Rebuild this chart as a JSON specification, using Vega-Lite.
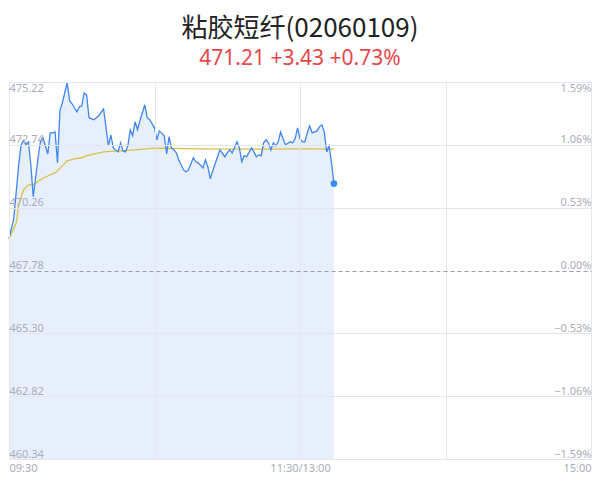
{
  "$schema": "https://vega.github.io/schema/vega-lite/v6.json",
  "width": 582,
  "height": 377,
  "autosize": "none",
  "padding": {"left": 9, "top": 82, "right": 9, "bottom": 24},
  "background": "white",
  "title": {
    "text": "粘胶短纤(02060109)",
    "subtitle": "471.21 +3.43 +0.73%",
    "anchor": "middle",
    "font": "Noto Sans CJK SC",
    "fontSize": 26,
    "fontWeight": "normal",
    "color": "#222222",
    "subtitleFont": "Noto Sans",
    "subtitleFontSize": 21,
    "subtitleColor": "#e8474a",
    "subtitlePadding": 6,
    "offset": 11
  },
  "datasets": {
    "price": [
      {"m": 0, "p": 469.03}, {"m": 2, "p": 469.86}, {"m": 4, "p": 471.95}, {"m": 5, "p": 472.74},
      {"m": 6, "p": 472.90}, {"m": 7, "p": 472.74}, {"m": 8, "p": 472.86}, {"m": 9, "p": 471.95},
      {"m": 10, "p": 470.69}, {"m": 12, "p": 472.23}, {"m": 13, "p": 472.90}, {"m": 14, "p": 473.02},
      {"m": 16, "p": 472.38}, {"m": 17, "p": 473.21}, {"m": 18, "p": 473.21}, {"m": 19, "p": 473.25},
      {"m": 20, "p": 472.03}, {"m": 21, "p": 474.08}, {"m": 22, "p": 474.40}, {"m": 24, "p": 475.19},
      {"m": 25, "p": 474.48}, {"m": 26, "p": 474.36}, {"m": 28, "p": 474.04}, {"m": 29, "p": 474.24},
      {"m": 30, "p": 474.28}, {"m": 31, "p": 474.79}, {"m": 32, "p": 474.71}, {"m": 33, "p": 473.81},
      {"m": 35, "p": 473.73}, {"m": 37, "p": 473.89}, {"m": 39, "p": 474.16}, {"m": 41, "p": 472.70},
      {"m": 42, "p": 473.13}, {"m": 43, "p": 472.62}, {"m": 45, "p": 472.46}, {"m": 46, "p": 472.82},
      {"m": 47, "p": 472.50}, {"m": 48, "p": 472.46}, {"m": 49, "p": 472.70}, {"m": 50, "p": 473.33},
      {"m": 51, "p": 473.10}, {"m": 52, "p": 473.65}, {"m": 53, "p": 473.33}, {"m": 54, "p": 473.69},
      {"m": 56, "p": 474.32}, {"m": 57, "p": 473.81}, {"m": 58, "p": 473.73}, {"m": 60, "p": 473.41},
      {"m": 61, "p": 472.94}, {"m": 62, "p": 473.29}, {"m": 64, "p": 473.10}, {"m": 65, "p": 472.38},
      {"m": 66, "p": 473.06}, {"m": 67, "p": 472.62}, {"m": 68, "p": 472.54}, {"m": 69, "p": 472.42},
      {"m": 70, "p": 472.15}, {"m": 72, "p": 471.75}, {"m": 73, "p": 471.67}, {"m": 74, "p": 471.75},
      {"m": 76, "p": 472.23}, {"m": 77, "p": 472.07}, {"m": 78, "p": 472.03}, {"m": 80, "p": 471.83},
      {"m": 81, "p": 472.15}, {"m": 82, "p": 471.87}, {"m": 83, "p": 471.40}, {"m": 84, "p": 471.71},
      {"m": 86, "p": 472.27}, {"m": 87, "p": 472.54}, {"m": 89, "p": 472.27}, {"m": 90, "p": 472.42},
      {"m": 91, "p": 472.54}, {"m": 92, "p": 472.42}, {"m": 94, "p": 472.86}, {"m": 95, "p": 472.62},
      {"m": 96, "p": 472.07}, {"m": 97, "p": 472.31}, {"m": 98, "p": 472.27}, {"m": 100, "p": 472.62},
      {"m": 101, "p": 472.46}, {"m": 102, "p": 472.27}, {"m": 103, "p": 472.35}, {"m": 104, "p": 472.31},
      {"m": 105, "p": 472.82}, {"m": 106, "p": 472.94}, {"m": 107, "p": 472.82}, {"m": 108, "p": 472.54},
      {"m": 109, "p": 472.82}, {"m": 110, "p": 472.70}, {"m": 111, "p": 472.86}, {"m": 112, "p": 473.25},
      {"m": 113, "p": 472.98}, {"m": 114, "p": 472.74}, {"m": 116, "p": 472.86}, {"m": 117, "p": 472.82},
      {"m": 118, "p": 472.98}, {"m": 119, "p": 473.41}, {"m": 120, "p": 472.98}, {"m": 121, "p": 472.86},
      {"m": 122, "p": 472.86}, {"m": 123, "p": 473.21}, {"m": 124, "p": 473.49}, {"m": 125, "p": 473.21},
      {"m": 127, "p": 473.29}, {"m": 128, "p": 473.45}, {"m": 129, "p": 473.53}, {"m": 130, "p": 473.25},
      {"m": 131, "p": 472.46}, {"m": 132, "p": 472.70}, {"m": 133, "p": 472.03}, {"m": 134, "p": 471.21}
    ],
    "avg": [
      {"m": 0, "p": 469.03}, {"m": 3, "p": 469.66}, {"m": 4, "p": 470.37}, {"m": 6, "p": 470.96},
      {"m": 8, "p": 471.16}, {"m": 10, "p": 471.16}, {"m": 13, "p": 471.36}, {"m": 17, "p": 471.56},
      {"m": 19, "p": 471.63}, {"m": 22, "p": 471.91}, {"m": 24, "p": 472.11}, {"m": 27, "p": 472.19},
      {"m": 30, "p": 472.23}, {"m": 32, "p": 472.31}, {"m": 34, "p": 472.35}, {"m": 39, "p": 472.46},
      {"m": 52, "p": 472.54}, {"m": 60, "p": 472.61}, {"m": 80, "p": 472.58}, {"m": 100, "p": 472.57},
      {"m": 120, "p": 472.58}, {"m": 134, "p": 472.57}
    ]
  },
  "encoding": {
    "x": {
      "field": "m",
      "type": "quantitative",
      "scale": {"domain": [0, 240], "nice": false, "zero": false},
      "axis": {
        "title": null,
        "zindex": 1,
        "values": [0, 60, 120, 180, 240],
        "labelExpr": "datum.value == 0 ? '09:30' : datum.value == 120 ? '11:30/13:00' : datum.value == 240 ? '15:00' : ''",
        "labelFlush": true,
        "labelOverlap": false,
        "labelPadding": 3,
        "labelFontSize": 11,
        "labelColor": "#a9adb8",
        "labelFont": "Noto Sans",
        "domain": false,
        "ticks": false,
        "tickSize": 0,
        "grid": true,
        "gridColor": "#e3e6ee"
      }
    }
  },
  "layer": [
    {
      "data": {"name": "price"},
      "mark": {"type": "area", "color": "#e8effc"},
      "encoding": {
        "y": {
          "field": "p",
          "type": "quantitative",
          "scale": {"domain": [460.34, 475.22], "nice": false, "zero": false},
          "axis": {
            "orient": "left",
            "title": null,
            "zindex": 1,
            "values": [460.34, 462.82, 465.30, 467.78, 470.26, 472.74, 475.22],
            "format": ".2f",
            "domain": false,
            "ticks": false,
            "tickSize": 0,
            "labelPadding": 0,
            "labelAlign": "left",
            "labelBaseline": {"condition": {"test": "datum.value > 475", "value": "top"}, "value": "bottom"},
            "labelFlush": false,
            "labelOverlap": false,
            "labelFontSize": 11,
            "labelColor": "#a9adb8",
            "labelFont": "Noto Sans",
            "grid": true,
            "gridColor": {"condition": {"test": "abs(datum.value - 467.78) < 0.001", "value": "#9a9ca3"}, "value": "#e3e6ee"},
            "gridDash": {"condition": {"test": "abs(datum.value - 467.78) < 0.001", "value": [4, 3]}, "value": []}
          }
        },
        "y2": {"datum": 460.34}
      }
    },
    {
      "data": {"name": "avg"},
      "mark": {"type": "line", "color": "#d9c148", "strokeWidth": 1.3},
      "encoding": {
        "y": {
          "field": "p",
          "type": "quantitative",
          "axis": {
            "orient": "right",
            "title": null,
            "zindex": 1,
            "values": [460.34, 462.82, 465.30, 467.78, 470.26, 472.74, 475.22],
            "labelExpr": "format((datum.value / 467.78 - 1) * 100, '.2f') + '%'",
            "domain": false,
            "ticks": false,
            "tickSize": 0,
            "labelPadding": 0,
            "labelAlign": "right",
            "labelBaseline": {"condition": {"test": "datum.value > 475", "value": "top"}, "value": "bottom"},
            "labelFlush": false,
            "labelOverlap": false,
            "labelFontSize": 11,
            "labelColor": "#a9adb8",
            "labelFont": "Noto Sans",
            "grid": false
          }
        }
      }
    },
    {
      "data": {"name": "price"},
      "mark": {"type": "line", "color": "#3f86f2", "strokeWidth": 1.3},
      "encoding": {
        "y": {"field": "p", "type": "quantitative", "axis": null}
      }
    },
    {
      "data": {"name": "price"},
      "transform": [{"filter": "datum.m == 134"}],
      "mark": {"type": "point", "filled": true, "color": "#3a8cf5", "size": 45, "opacity": 1},
      "encoding": {
        "y": {"field": "p", "type": "quantitative", "axis": null}
      }
    }
  ],
  "resolve": {"scale": {"y": "shared"}, "axis": {"y": "independent"}},
  "config": {
    "view": {"stroke": null}
  }
}
